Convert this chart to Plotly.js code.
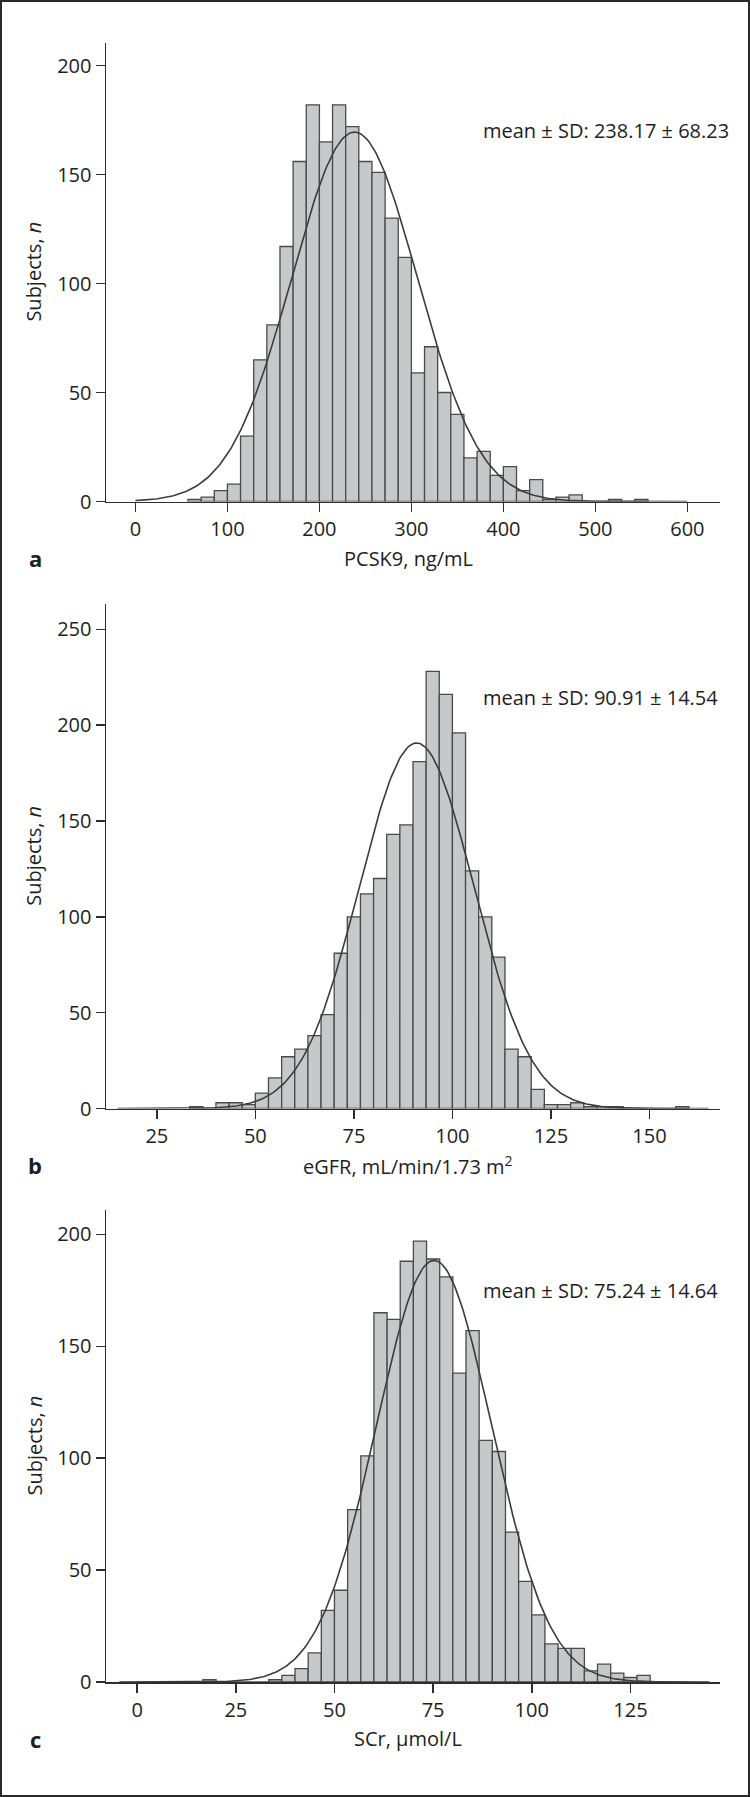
<!DOCTYPE html>
<html><head><meta charset="utf-8">
<script src="https://cdn.plot.ly/plotly-3.0.1.min.js"></script>
<style>
html,body{margin:0;padding:0;background:#fff}
#wrap{position:relative;width:750px;height:1797px}
#chart{width:750px;height:1797px}
#frame{position:absolute;left:0;top:0;width:750px;height:1797px;box-sizing:border-box;border:2px solid #2a2a2a;pointer-events:none}
</style>
</head><body>
<div id="wrap"><div id="chart"></div><div id="frame"></div></div>
<script>
// ---- Panel a: PCSK9 (ng/mL) ----
const pcsk9BinStart = 400/7;      // left edge of first bar
const pcsk9BinWidth = 100/7;
const pcsk9Counts = [1,2,5,8,30,65,81,117,156,182,165,182,172,156,151,130,112,59,71,50,40,20,23,12,16,5,10,1,2,3,0,0,1,0,1];
const pcsk9Mean = 238.17, pcsk9SD = 68.23;
const pcsk9Ticks = [0,100,200,300,400,500,600];

// ---- Panel b: eGFR ----
const egfrBinStart = 100/3;
const egfrBinWidth = 10/3;
const egfrCounts = [1,0,3,3,2,8,16,27,31,38,49,81,100,112,120,143,148,181,228,216,196,124,100,79,31,27,10,2,2,3,1,1,1,0,0,0,0,1];
const egfrMean = 90.91, egfrSD = 14.54;
const egfrTicks = [25,50,75,100,125,150];

// ---- Panel c: SCr ----
const scrBinStart = 50/3;
const scrBinWidth = 10/3;
const scrCounts = [1,0,0,0,0,1,3,6,13,32,41,77,101,165,162,188,197,189,181,138,157,108,103,67,45,30,17,15,15,5,8,4,2,3];
const scrMean = 75.24, scrSD = 14.64;
const scrTicks = [0,25,50,75,100,125];

const yTicksA = [0,50,100,150,200];
const yTicksB = [0,50,100,150,200,250];
const yTicksC = [0,50,100,150,200];

const labels = {
  a: {x: 'PCSK9, ng/mL', mean: 'mean ± SD: 238.17 ± 68.23'},
  b: {x: 'eGFR, mL/min/1.73 m<sup>2</sup>', mean: 'mean ± SD: 90.91 ± 14.54'},
  c: {x: 'SCr, μmol/L', mean: 'mean ± SD: 75.24 ± 14.64'}
};
const yTitle = 'Subjects, <i>n</i>';

// ---------- drawing ----------
const W = 750, H = 1797;
const FONT = '"Open Sans", "DejaVu Sans", sans-serif';
const TXT = '#1e1e1e';
const BAR_FILL = '#c7c8ca', BAR_LINE = '#4a4a4a', CURVE = '#3c3c3c', AXIS = '#2e2e2e';

function binEdges(start, width, counts){ return counts.map((c,i)=>start + i*width); }
function normalCurve(mean, sd, counts, width, x0, x1){
  const n = counts.reduce((a,b)=>a+b,0);
  const xs=[], ys=[];
  const steps = 300;
  for(let i=0;i<=steps;i++){
    const x = x0 + (x1-x0)*i/steps;
    const z = (x-mean)/sd;
    xs.push(x); ys.push(n*width*Math.exp(-0.5*z*z)/(sd*Math.sqrt(2*Math.PI)));
  }
  return {xs, ys};
}

const panels = [
  {key:'a', xa:'x',  ya:'y',  start:pcsk9BinStart, width:pcsk9BinWidth, counts:pcsk9Counts, mean:pcsk9Mean, sd:pcsk9SD,
   xr:[-32,635.5], yr:[0,210.5], top:42.7, bottom:501.5, xt:pcsk9Ticks, yt:yTicksA, curve:[0,600], meanY:130, letter:'a'},
  {key:'b', xa:'x2', ya:'y2', start:egfrBinStart, width:egfrBinWidth, counts:egfrCounts, mean:egfrMean, sd:egfrSD,
   xr:[12.1,167.9], yr:[0,263.2], top:604, bottom:1108.5, xt:egfrTicks, yt:yTicksB, curve:[15,165], meanY:698, letter:'b'},
  {key:'c', xa:'x3', ya:'y3', start:scrBinStart, width:scrBinWidth, counts:scrCounts, mean:scrMean, sd:scrSD,
   xr:[-7.9,147.7], yr:[0,210.9], top:1210, bottom:1682, xt:scrTicks, yt:yTicksC, curve:[-4.5,145], meanY:1290.7, letter:'c'}
];

const data = [], annotations = [];
const layout = {
  width: W, height: H, margin:{l:0,r:0,t:0,b:0},
  paper_bgcolor:'#fff', plot_bgcolor:'rgba(0,0,0,0)',
  showlegend:false, bargap:0, font:{family:FONT, size:20, color:TXT},
  annotations
};

const plotL = 106, plotR = 720;
panels.forEach((p, i)=>{
  const sfx = i===0 ? '' : String(i+1);
  data.push({
    type:'bar', x: binEdges(p.start, p.width, p.counts), y: p.counts,
    offset: 0, width: p.width, xaxis: p.xa, yaxis: p.ya,
    marker:{color:BAR_FILL, line:{color:BAR_LINE, width:1.3}}, hoverinfo:'skip'
  });
  const c = normalCurve(p.mean, p.sd, p.counts, p.width, p.curve[0], p.curve[1]);
  data.push({type:'scatter', mode:'lines', x:c.xs, y:c.ys, xaxis:p.xa, yaxis:p.ya,
    line:{color:CURVE, width:1.6}, hoverinfo:'skip'});
  const axCommon = {showline:true, linecolor:AXIS, linewidth:1.5, ticks:'outside', ticklen:9, tickwidth:1.5,
    tickcolor:AXIS, showgrid:false, zeroline:false, fixedrange:true,
    tickfont:{family:FONT, size:20, color:TXT}};
  layout['xaxis'+sfx] = Object.assign({}, axCommon, {
    domain:[plotL/W, plotR/W], range:p.xr, anchor:p.ya, tickmode:'array', tickvals:p.xt, ticktext:p.xt.map(String)});
  layout['yaxis'+sfx] = Object.assign({}, axCommon, {
    domain:[1-p.bottom/H, 1-p.top/H], range:p.yr, anchor:p.xa, tickmode:'array', tickvals:p.yt, ticktext:p.yt.map(String)});
  // mean ± SD
  annotations.push({xref:'paper', yref:'paper', x:481/W, y:1-p.meanY/H, xanchor:'left', yanchor:'middle',
    text: labels[p.key].mean, showarrow:false, font:{family:FONT, size:20, color:TXT}});
  // x title
  annotations.push({xref:'paper', yref:'paper', x:408/W, y:1-(p.bottom+56.5)/H, xanchor:'center', yanchor:'middle',
    text: labels[p.key].x, showarrow:false, font:{family:FONT, size:20, color:TXT}});
  // y title
  annotations.push({xref:'paper', yref:'paper', x:33.5/W, y:1-((p.top+p.bottom)/2)/H, xanchor:'center', yanchor:'middle',
    text: yTitle, textangle:-90, showarrow:false, font:{family:FONT, size:20, color:TXT}});
  // panel letter
  annotations.push({xref:'paper', yref:'paper', x:35/W, y:1-(p.bottom+56.5)/H, xanchor:'center', yanchor:'middle',
    text: '<b>'+p.letter+'</b>', showarrow:false, font:{family:FONT, size:22, color:TXT}});
});

Plotly.newPlot('chart', data, layout, {displayModeBar:false, staticPlot:true});
</script>
</body></html>
